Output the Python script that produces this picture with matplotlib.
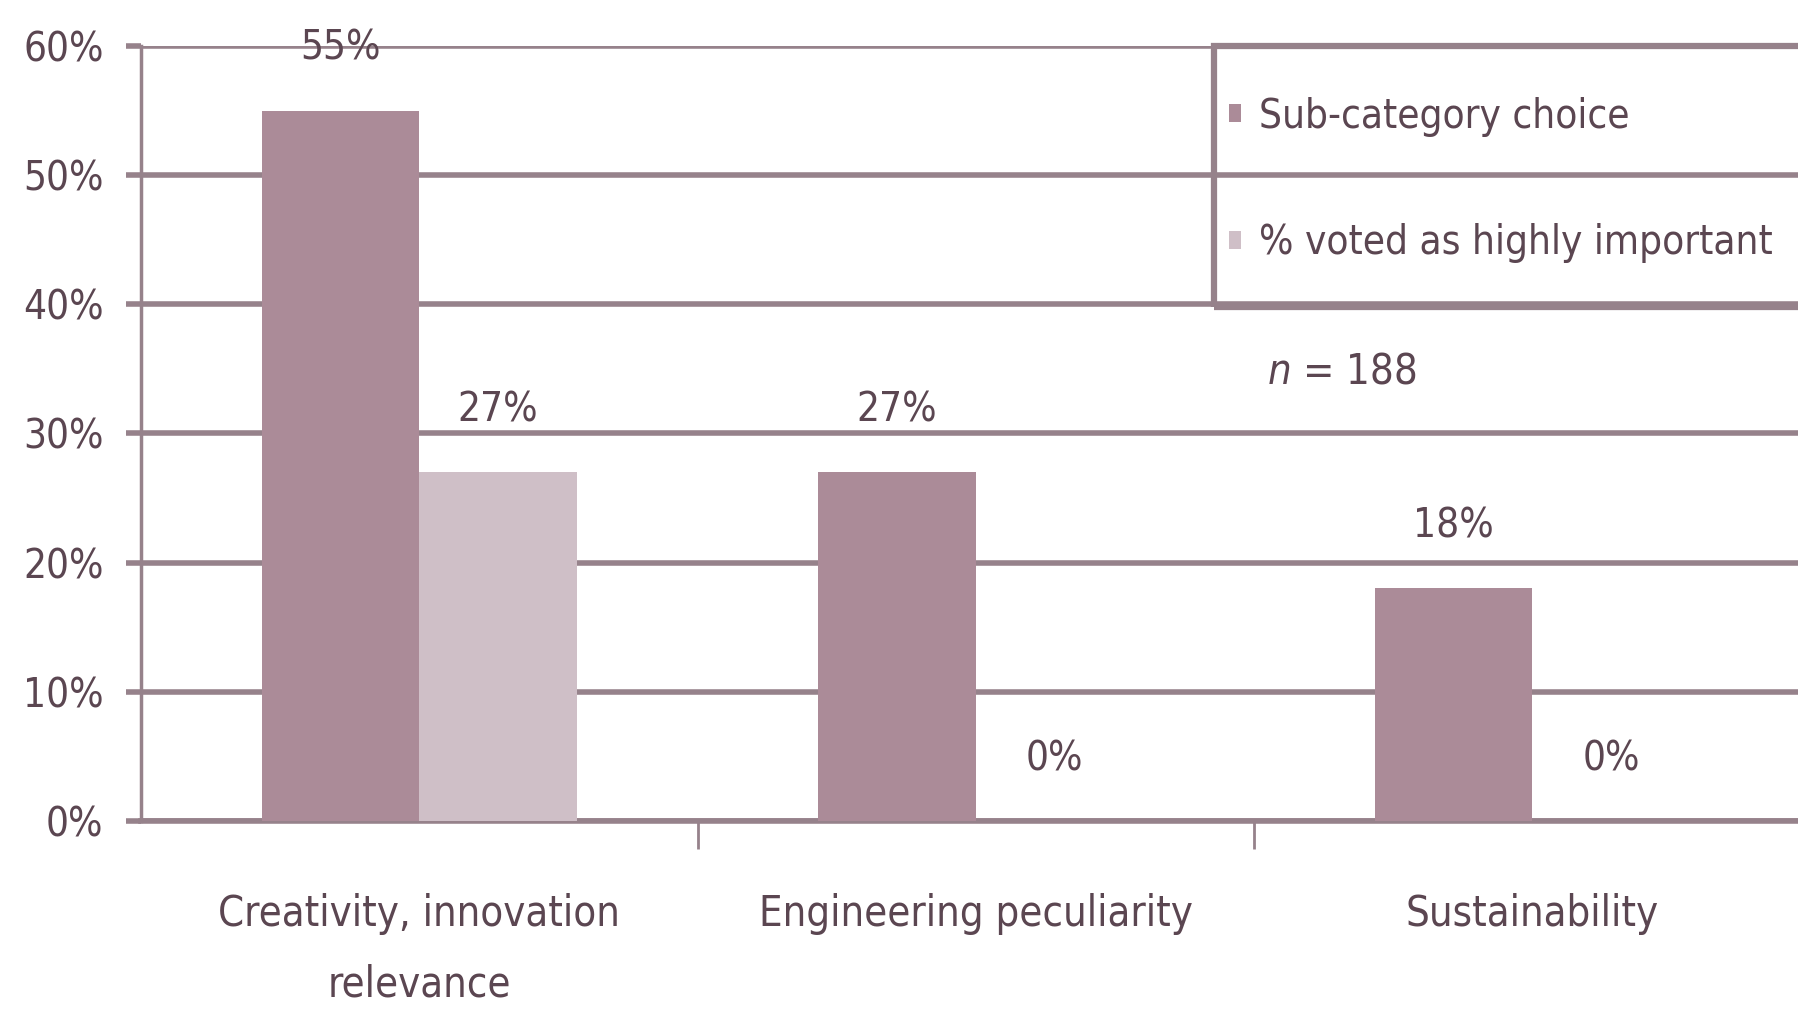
import matplotlib
matplotlib.use("Agg")
import matplotlib.pyplot as plt
from matplotlib.patches import Rectangle
import numpy as np

categories = ["Creativity, innovation\nrelevance", "Engineering peculiarity", "Sustainability"]
sub_category_choice = [55, 27, 18]
voted_highly_important = [27, 0, 0]
series_labels = ["Sub-category choice", "% voted as highly important"]
y_ticks = [0, 10, 20, 30, 40, 50, 60]

DARK = "#AB8B98"
LIGHT = "#CFBFC7"
GRID = "#96828B"
TEXT = "#5B4651"

plt.rcParams.update({
    "font.family": "DejaVu Sans",
    "font.stretch": "condensed",
})

fig = plt.figure(figsize=(17.99, 10.28), dpi=100)
ax = fig.add_axes([0.0784, 0.2014, 0.928, 0.7539])

x = np.arange(len(categories))
w = 0.283
b1 = ax.bar(x - w / 2, sub_category_choice, w, color=DARK, label=series_labels[0], zorder=3)
b2 = ax.bar(x + w / 2, voted_highly_important, w, color=LIGHT, label=series_labels[1], zorder=3)

for bars in (b1, b2):
    for b in bars:
        h = b.get_height()
        ax.annotate(f"{h:.0f}%", (b.get_x() + b.get_width() / 2, h),
                    textcoords="offset points", xytext=(0, 30), ha="center",
                    va="bottom", fontsize=29, color=TEXT)

ax.set_xlim(-0.5, 2.5)
ax.set_ylim(0, 60)
ax.set_yticks(y_ticks)
ax.set_yticklabels([f"{t}%" for t in y_ticks], fontsize=29, color=TEXT)
ax.yaxis.grid(True, color=GRID, linewidth=4, zorder=0)
ax.set_axisbelow(True)
ax.tick_params(axis="y", length=11, width=4, color=GRID, pad=16)

ax.set_xticks(x)
ax.set_xticklabels(categories, fontsize=30, color=TEXT, linespacing=1.85)
ax.set_xticks([0.5, 1.5], minor=True)
ax.tick_params(axis="x", which="major", length=0, pad=52)
ax.tick_params(axis="x", which="minor", length=20, width=2, color=GRID)

for s in ["top", "right"]:
    ax.spines[s].set_visible(False)
ax.spines["left"].set_color(GRID)
ax.spines["left"].set_linewidth(2.5)
ax.spines["bottom"].set_color(GRID)
ax.spines["bottom"].set_linewidth(4)

# legend: entries without frame, box drawn separately so it runs off the right edge
leg = ax.legend(loc="upper left", bbox_to_anchor=(0.683, 0.906),
                bbox_transform=fig.transFigure, fontsize=29, frameon=False,
                handlelength=0.3, handleheight=0.3, handletextpad=0.45,
                labelspacing=2.15, borderpad=0, borderaxespad=0)
for t in leg.get_texts():
    t.set_color(TEXT)
fig.patches.append(Rectangle((0.675, 1 - 307 / 1028), 0.4, (307 - 46) / 1028,
                             transform=fig.transFigure, fill=False,
                             edgecolor=GRID, linewidth=4.5, zorder=5))

fig.text(0.746, 0.639, r"$n$ = 188", fontsize=30, color=TEXT, ha="center", va="center")

fig.savefig("out.png", dpi=100)
